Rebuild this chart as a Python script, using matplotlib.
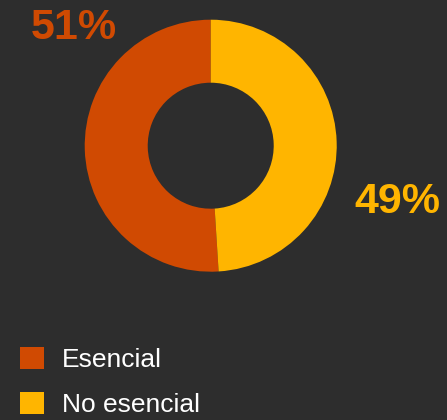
import matplotlib.pyplot as plt
from matplotlib.patches import Patch

# Datos
categorias = ["Esencial", "No esencial"]
valores = [51, 49]
colores = ["#D04A02", "#FFB500"]
fondo = "#2D2D2D"

plt.rcParams["font.family"] = ["Liberation Sans", "DejaVu Sans"]

fig = plt.figure(figsize=(4.47, 4.20), dpi=100, facecolor=fondo)

# Ejes del anillo (centro ~ (211, 146) px, radio ~126 px)
ax = fig.add_axes([0.1895, 0.3531, 0.5638, 0.6])
ax.set_facecolor(fondo)
wedges, _ = ax.pie(valores, colors=colores, startangle=90, counterclock=True,
                   radius=1, wedgeprops=dict(width=0.5, linewidth=0))
ax.set_xlim(-1, 1)
ax.set_ylim(-1, 1)
ax.set_aspect("equal")
ax.axis("off")

# Etiquetas de porcentaje (línea base)
posiciones = [(-1.085, 0.847), (1.479, -0.532)]
for v, c, (px, py) in zip(valores, colores, posiciones):
    ax.text(px, py, f"{v}%", color=c, fontsize=31, fontweight="bold",
            ha="center", va="baseline", clip_on=False)

# Leyenda
handles = [Patch(facecolor=c, edgecolor="none") for c in colores]
fig.legend(handles, categorias, loc="upper left",
           bbox_to_anchor=(20 / 447, 1 - 347 / 420), frameon=False,
           fontsize=19, labelcolor="white", handlelength=0.91,
           handleheight=0.91, handletextpad=0.68, labelspacing=0.74,
           borderpad=0, borderaxespad=0)

fig.savefig("out.png", dpi=100, facecolor=fondo)
plt.close()
